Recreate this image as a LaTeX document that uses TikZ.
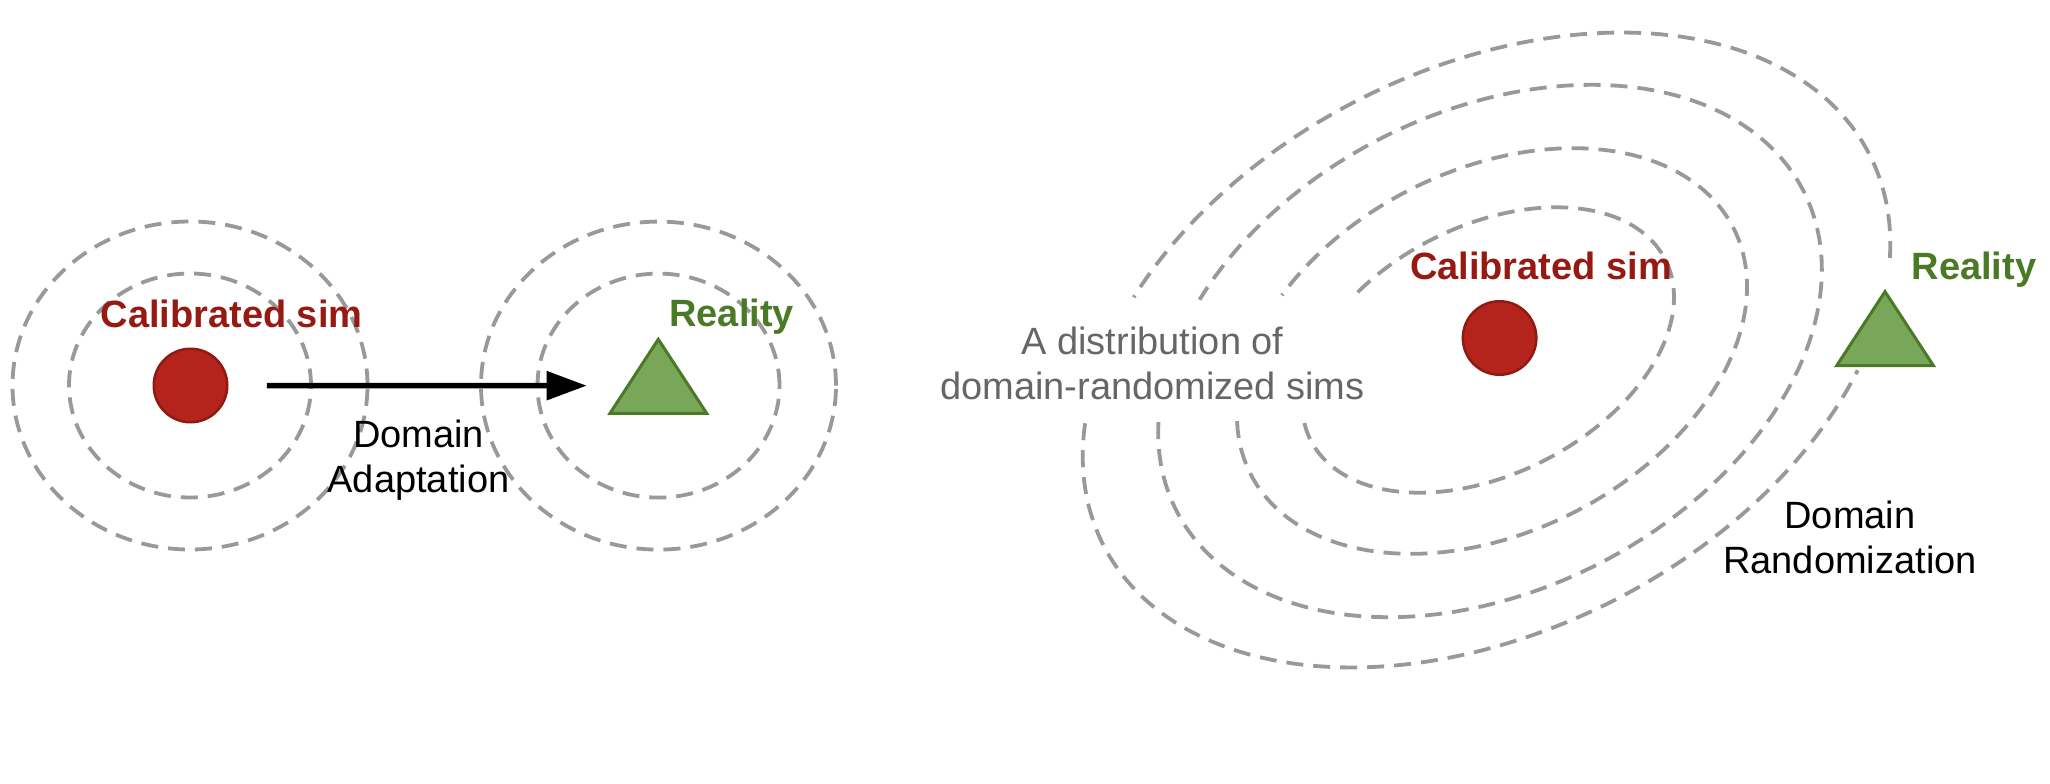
\documentclass[tikz,border=0pt]{standalone}
\usepackage{fontspec}
\setmainfont{Liberation Sans}
\usetikzlibrary{arrows.meta}
\definecolor{dashgray}{HTML}{999999}
\definecolor{txtgray}{HTML}{666666}
\definecolor{simred}{HTML}{B5241C}
\definecolor{simredline}{HTML}{8E1A12}
\definecolor{simtext}{HTML}{961A12}
\definecolor{realfill}{HTML}{79A75A}
\definecolor{realline}{HTML}{4A7A26}
\begin{document}
\begin{tikzpicture}[x=1pt,y=-1pt,
  ring/.style={draw=dashgray, line width=3.8pt, dash pattern=on 17pt off 10pt},
  simdot/.style={circle, fill=simred, draw=simredline, line width=2.5pt, minimum size=73.5pt, inner sep=0pt},
  realtri/.style={fill=realfill, draw=realline, line width=3pt},
  simlabel/.style={text=simtext, font=\fontsize{38}{45}\selectfont\bfseries, anchor=base, inner sep=0pt},
  reallabel/.style={text=realline, font=\fontsize{38}{45}\selectfont\bfseries, anchor=base, inner sep=0pt},
  note/.style={font=\fontsize{38}{45}\selectfont, align=center, anchor=base, inner sep=0pt},
  flow/.style={line width=5.5pt, -{Triangle[length=40pt,width=28pt]}}
]
\useasboundingbox (0,0) rectangle (2050,784);

% left panel rings
\draw[ring] (190,385.5) ellipse [x radius=177.5pt, y radius=164pt];
\draw[ring] (190,385.5) ellipse [x radius=121pt, y radius=112pt];
\draw[ring] (658.5,385.6) ellipse [x radius=177.5pt, y radius=164pt];
\draw[ring] (658.5,385.6) ellipse [x radius=121pt, y radius=112pt];

% right panel tilted rings
\draw[ring] plot[domain=155.4:318.4, samples=90, variable=\t]
  ({1486.5+430*cos(\t)*cos(27)-281*sin(\t)*sin(27)}, {350-430*cos(\t)*sin(27)-281*sin(\t)*cos(27)});
\draw[ring] plot[domain=338.9:492.5, samples=90, variable=\t]
  ({1486.5+430*cos(\t)*cos(27)-281*sin(\t)*sin(27)}, {350-430*cos(\t)*sin(27)-281*sin(\t)*cos(27)});
\draw[ring] plot[domain=158.6:492, samples=140, variable=\t]
  ({1490+352*cos(\t)*cos(27)-239*sin(\t)*sin(27)}, {351-352*cos(\t)*sin(27)-239*sin(\t)*cos(27)});
\draw[ring] plot[domain=162.9:486.7, samples=140, variable=\t]
  ({1492+271*cos(\t)*cos(27)-181*sin(\t)*sin(27)}, {351-271*cos(\t)*sin(27)-181*sin(\t)*cos(27)});
\draw[ring] plot[domain=171.5:478.4, samples=140, variable=\t]
  ({1488+199*cos(\t)*cos(27)-124*sin(\t)*sin(27)}, {350-199*cos(\t)*sin(27)-124*sin(\t)*cos(27)});

% markers
\node[simdot] (c1) at (190.5,385.5) {};
\node[simdot] (c2) at (1499.6,338) {};
\coordinate (t1) at (658.3,385.7);
\coordinate (t2) at (1885,338);
\draw[realtri] (t1) ++(0,-46.4) -- ++(-48.3,74) -- ++(96.7,0) -- cycle;
\draw[realtri] (t2) ++(0,-46.4) -- ++(-48.3,74) -- ++(96.7,0) -- cycle;

% arrow
\draw[flow, shorten <=38.25pt, shorten >=71.6pt] (c1) -- (t1);

% labels (multi-line nodes: base = baseline of last line)
\node[simlabel] (simL) at (231.5,327.7) {Calibrated sim};
\node[reallabel] (realL) at (731.7,326.7) {Reality};
\node[note] (da) at (418.5,492.5) {Domain\\Adaptation};
\node[simlabel] (simR) at (1541,279) {Calibrated sim};
\node[reallabel] (realR) at (1974,279) {Reality};
\node[note] (dr) at (1850,573.5) {Domain\\Randomization};
\node[note, text=txtgray] (dist) at (1152.5,399) {A distribution of\\domain-randomized sims};
\end{tikzpicture}
\end{document}
